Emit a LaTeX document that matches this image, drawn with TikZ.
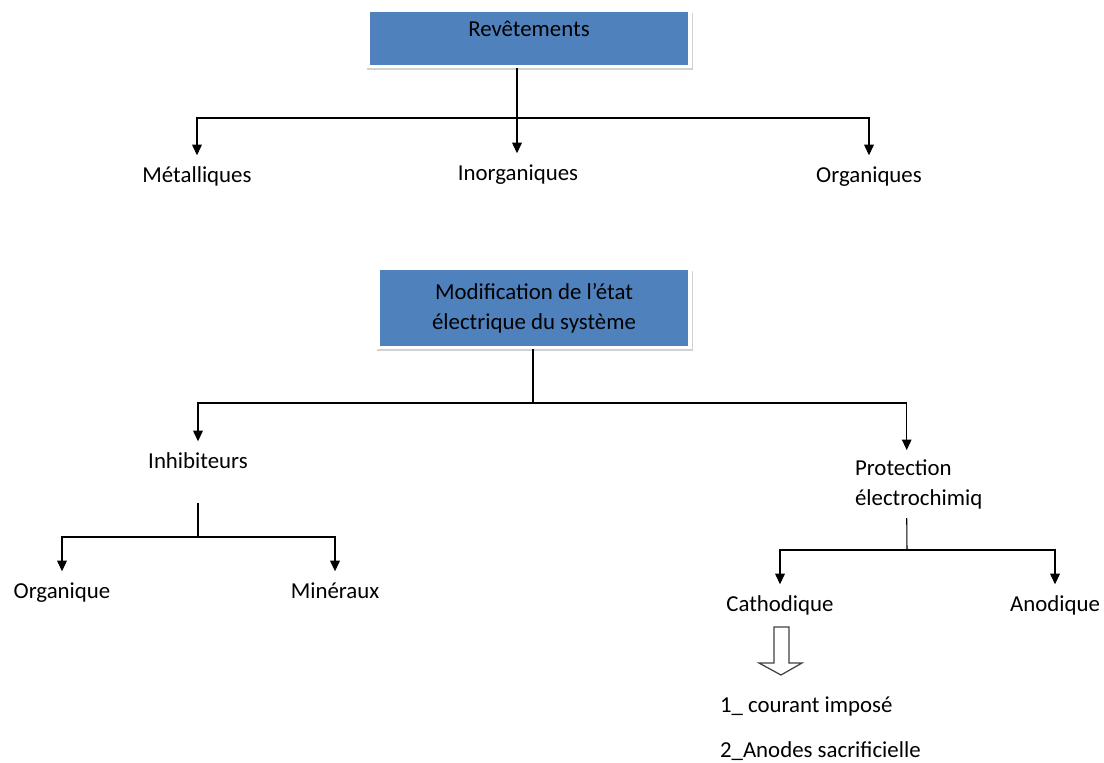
\documentclass[tikz,border=0pt]{standalone}
\usepackage{fontspec}
\setmainfont{Carlito}
\usetikzlibrary{arrows.meta,shadows}

\begin{document}
\begin{tikzpicture}[
    x=0.02cm, y=-0.02cm,
    blockbox/.style = {rectangle, draw=white, line width=2pt,
fill={rgb,255:red,79;green,129;blue,189}, text=black,
drop shadow={shadow xshift=0.6pt, shadow yshift=-1.6pt, shadow scale=1.012, fill=black!35},
align=center, font=\fontsize{13}{17}\selectfont},
    leaf/.style = {inner xsep=2pt, inner ysep=5pt, text height=10pt,
text depth=3pt, font=\fontsize{13}{17}\selectfont, text=black},
    arr/.style = {-{Triangle[width=5.5pt,length=6pt]}},
    every path/.style={line width=0.6pt}
]
  \useasboundingbox (0,0) rectangle (1104,762);

  % first tree
  \node (revet) [blockbox, minimum width=6.44cm, minimum height=1.12cm,
    text height=10pt, text depth=12.4pt] at (529,38.5) {Rev\^etements};
  \node (metal) [leaf] at (197,176) {Métalliques};
  \node (inorg) [leaf] at (518,174) {Inorganiques};
  \node (organ) [leaf] at (869,176) {Organiques};
  \coordinate (j1) at (517,118);

  \draw      (revet.south -| j1) -- (j1);
  \draw[arr] (j1) -| (metal.north);
  \draw[arr] (j1) -- (inorg.north -| j1);
  \draw[arr] (j1) -| (organ.north);

  % second tree
  \node (modif) [blockbox, minimum width=6.24cm, minimum height=1.58cm]
    at (534,308) {Modification de l’état\\électrique du système};
  \node (inhib) [leaf] at (198,462) {Inhibiteurs};
  \node (prot)  [leaf, text height=, text depth=, align=left, anchor=base west]
    at (851,505) {Protection\\électrochimiq};
  \coordinate (j2) at (533,403);

  \draw      (modif.south -| j2) -- (j2);
  \draw[arr] (j2) -| (inhib.north);
  \draw[arr] (j2) -| ([xshift=-0.24cm]prot.north);

  \node (orgq)  [leaf] at (62,592) {Organique};
  \node (miner) [leaf] at (335,592) {Minéraux};
  \coordinate (j3) at (198,537);

  \draw[shorten <=0.4cm] (inhib.south) -- (j3);
  \draw[arr] (j3) -| (orgq.north);
  \draw[arr] (j3) -| (miner.north);

  \node (cath) [leaf] at (780,605) {Cathodique};
  \node (anod) [leaf] at (1055,605) {Anodique};
  \coordinate (j4) at (907,550);

  \draw ([xshift=-0.24cm]prot.south) -- (j4);
  \draw[arr] (j4) -| (cath.north);
  \draw[arr] (j4) -| (anod.north);

  % hollow arrow and list
  \draw[line width=0.7pt, black!75] (774,627) -- (789,627) -- (789,663) -- (802,663)
    -- (781,675) -- (759,663) -- (774,663) -- cycle;
  \node (cour)   [leaf, anchor=west] at (716,706) {1\_ courant imposé};
  \node (sacrif) [leaf, anchor=west] at (716,751) {2\_Anodes sacrificielle};
\end{tikzpicture}
\end{document}
